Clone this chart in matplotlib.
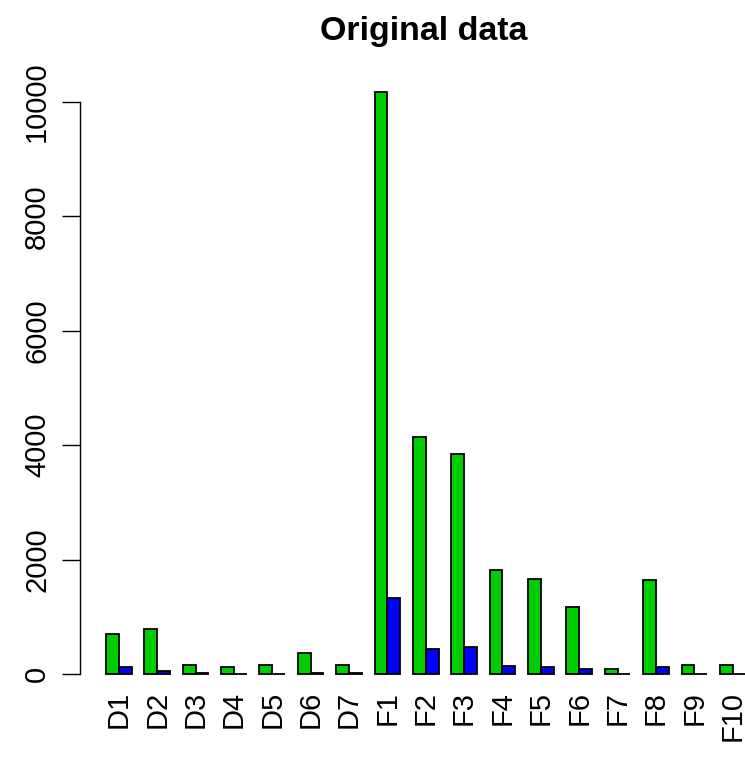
import matplotlib
matplotlib.use('Agg')
import matplotlib.pyplot as plt
import numpy as np

categories = ['D1', 'D2', 'D3', 'D4', 'D5', 'D6', 'D7', 'F1', 'F2', 'F3',
              'F4', 'F5', 'F6', 'F7', 'F8', 'F9', 'F10']
green_vals = [703, 780, 165, 130, 150, 375, 150, 10180, 4150, 3840,
              1815, 1665, 1180, 90, 1640, 150, 160]
blue_vals = [120, 60, 10, 5, 5, 20, 25, 1330, 440, 465,
             140, 130, 95, 5, 130, 5, 5]
yticks = [0, 2000, 4000, 6000, 8000, 10000]
title = 'Original data'

plt.rcParams['font.family'] = ['Liberation Sans', 'DejaVu Sans']

W, H = 745, 764
fig = plt.figure(figsize=(W / 100, H / 100), dpi=100)

# layout in pixels (R barplot style)
n = len(categories)
xmin, xmax = -1, 3 * n + 2
px_per_unit = 12.79
left_px = 80.4
right_px = left_px + (xmax - xmin) * px_per_unit
ymax = max(green_vals)
ylo, yhi = -0.04 * ymax, 1.04 * ymax
zero_px = 674.0
px_per_val = 0.0572
bottom_px = zero_px - ylo * px_per_val
top_px = zero_px - yhi * px_per_val

ax = fig.add_axes([left_px / W, (H - bottom_px) / H,
                   (right_px - left_px) / W, (bottom_px - top_px) / H])
ax.set_xlim(xmin, xmax)
ax.set_ylim(ylo, yhi)

x = np.arange(n) * 3 + 1
ax.bar(x, green_vals, width=1, align='edge', color='#00CD00',
       edgecolor='black', linewidth=1.3)
ax.bar(x + 1, blue_vals, width=1, align='edge', color='#0000FF',
       edgecolor='black', linewidth=1.3)

for s in ['top', 'right', 'bottom']:
    ax.spines[s].set_visible(False)
ax.spines['left'].set_bounds(0, 10000)
ax.spines['left'].set_linewidth(1.0)
ax.set_yticks(yticks)
ax.set_yticklabels([str(v) for v in yticks], rotation=90, va='center')
ax.tick_params(axis='y', length=13, width=1.0, pad=8, labelsize=21)
ax.set_xticks([])

label_y = (zero_px - 691) / px_per_val
for xi, lab in zip(x + 1, categories):
    ax.text(xi, label_y, lab, rotation=90, ha='center', va='top',
            fontsize=21, clip_on=False)

fig.text(424 / W, (H - 40) / H, title, ha='center', va='baseline',
         fontsize=24.5, fontweight='bold')

fig.savefig('out.png', dpi=100)
